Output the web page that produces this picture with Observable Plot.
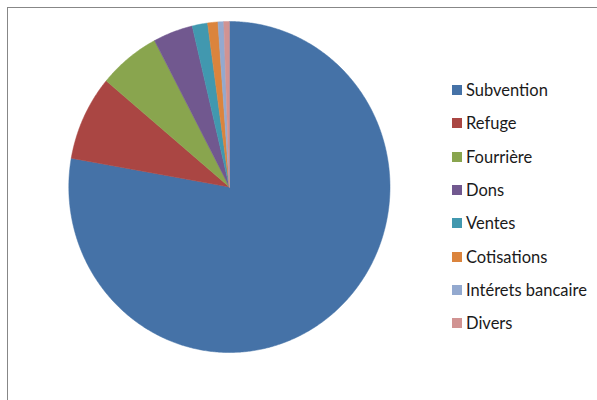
<!DOCTYPE html>
<html>
<head>
<meta charset="utf-8">
<script src="https://cdn.jsdelivr.net/npm/d3@7"></script>
<script src="https://cdn.jsdelivr.net/npm/@observablehq/plot@0.6"></script>
<style>
  html, body { margin: 0; padding: 0; background: #fff; }
  #wrap { position: relative; width: 597px; height: 400px; overflow: hidden; }
  #border { position: absolute; left: 7px; top: 7px; width: 620px; height: 420px;
            border-left: 1.5px solid #878787; border-top: 1.5px solid #878787; }
  #legend { position: absolute; left: 452px; top: 0; font-family: Lato, sans-serif; font-size: 16.5px; color: #1a1a1a; }
  .item { position: absolute; left: 0; white-space: nowrap; display: flex; align-items: center; }
  .sw { width: 10px; height: 10px; margin-right: 4px; }
</style>
</head>
<body>
<div id="wrap">
  <div id="chart"></div>
  <div id="border"></div>
  <div id="legend"></div>
</div>
<script>
const categories = ["Subvention", "Refuge", "Fourrière", "Dons", "Ventes", "Cotisations", "Intérets bancaire", "Divers"];
const values = [77.8, 8.3, 6.2, 4.0, 1.55, 1.03, 0.58, 0.56];
const colors = ["#4572A7", "#AA4643", "#89A54E", "#71588F", "#4198AF", "#DB843D", "#93A9CF", "#D19392"];

const data = categories.map((name, i) => ({name, value: values[i], color: colors[i]}));
const arcs = d3.pie().sort(null).value(d => d.value)(data);

// Build slice outlines in unit data space (y up, start at 12 o'clock, clockwise)
const slices = arcs.map(a => {
  const pts = [{name: a.data.name, x: 0, y: 0}];
  const n = Math.max(2, Math.ceil((a.endAngle - a.startAngle) / (Math.PI / 360)));
  for (let k = 0; k <= n; k++) {
    const t = a.startAngle + (a.endAngle - a.startAngle) * k / n;
    pts.push({name: a.data.name, x: Math.sin(t), y: Math.cos(t)});
  }
  pts.push({name: a.data.name, x: 0, y: 0});
  return {name: a.data.name, color: a.data.color, pts};
});

const chart = Plot.plot({
  width: 597,
  height: 400,
  margin: 0,
  x: {domain: [-1, 1], range: [68.3, 389.5], axis: null},
  y: {domain: [-1, 1], range: [352, 21], axis: null},
  marks: slices.map(s => Plot.line(s.pts, {x: "x", y: "y", fill: s.color, stroke: s.color, strokeWidth: 0.5, curve: "linear"}))
});
document.getElementById("chart").appendChild(chart);

const legend = document.getElementById("legend");
categories.forEach((name, i) => {
  const div = document.createElement("div");
  div.className = "item";
  div.style.top = (80 + i * 33.3) + "px";
  const sw = document.createElement("span");
  sw.className = "sw";
  sw.style.background = colors[i];
  const lab = document.createElement("span");
  lab.textContent = name;
  div.appendChild(sw);
  div.appendChild(lab);
  legend.appendChild(div);
});
</script>
</body>
</html>
